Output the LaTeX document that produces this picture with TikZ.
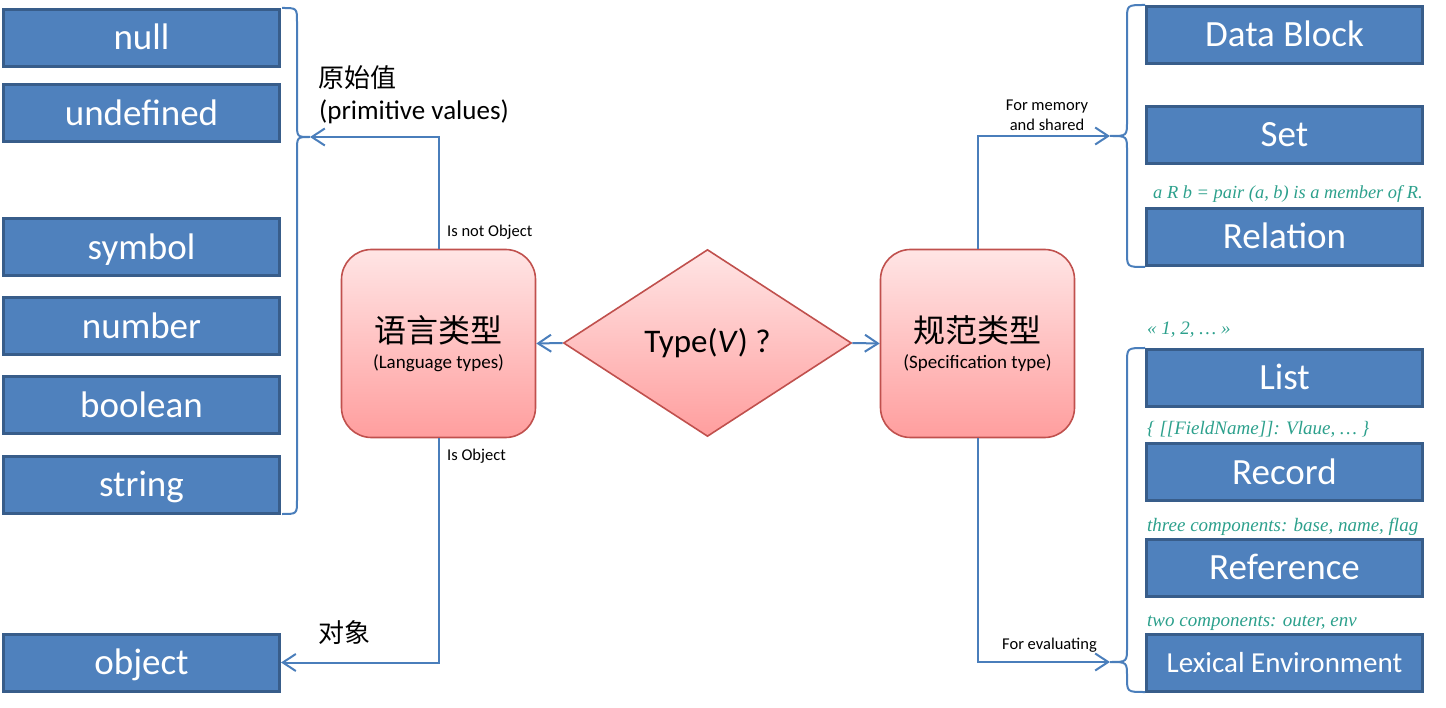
\documentclass[tikz,border=0pt]{standalone}
\usepackage{fontspec}
\setmainfont{Carlito}
\newfontfamily\cjk{Noto Sans CJK SC}
\newfontfamily\notefont{Liberation Serif}
\usetikzlibrary{shapes.geometric,arrows.meta}
\definecolor{boxblue}{RGB}{79,129,189}
\definecolor{boxedge}{RGB}{56,93,138}
\definecolor{linkblue}{RGB}{74,126,187}
\definecolor{typered}{RGB}{192,80,77}
\definecolor{pinktop}{RGB}{255,229,229}
\definecolor{pinkbot}{RGB}{255,158,158}
\definecolor{notegreen}{RGB}{44,160,140}
\tikzset{valbox/.style={rectangle,draw=boxedge,fill=boxblue,line width=3pt,minimum width=276pt,minimum height=57pt,inner sep=0pt,text=white,font=\fontsize{37}{42}\selectfont,text height=26pt,text depth=2pt}}
\tikzset{typebox/.style={rectangle,rounded corners=30pt,draw=typered,line width=1.6pt,top color=pinktop,bottom color=pinkbot,minimum width=194pt,minimum height=188pt,inner sep=0pt,align=center}}
\tikzset{decision/.style={diamond,aspect=1.54,draw=typered,line width=1.6pt,top color=pinktop,bottom color=pinkbot,minimum width=288pt,minimum height=187pt,inner sep=0pt,font=\fontsize{33}{38}\selectfont}}
\tikzset{flow/.style={draw=linkblue,line width=2pt,-{Straight Barb[length=13pt,width=17pt]}}}
\tikzset{brace/.style={draw=linkblue,line width=2pt}}
\tikzset{note/.style={text=notegreen,font=\notefont\itshape\fontsize{19}{21}\selectfont,anchor=west,inner sep=0pt}}
\tikzset{tag/.style={font=\fontsize{16.5}{20}\selectfont,anchor=west,inner sep=0pt}}
\tikzset{cnlabel/.style={font=\cjk\fontsize{26}{30}\selectfont,anchor=west,inner sep=0pt}}

\begin{document}
\begin{tikzpicture}[x=1pt,y=-1pt]
    \useasboundingbox (0,0) rectangle (1446,708);

    % language values
    \node[valbox] (null) at (141.5,38) {null};
    \node[valbox] (undef) at (141.5,113.5) {undefined};
    \node[valbox] (sym) at (141.5,247.5) {symbol};
    \node[valbox] (num) at (141.5,326.5) {number};
    \node[valbox] (bool) at (141.5,405.5) {boolean};
    \node[valbox] (str) at (141.5,484.5) {string};
    \node[valbox] (obj) at (141.5,662.5) {object};

    % specification values
    \node[valbox] (block) at (1284.5,35) {Data Block};
    \node[valbox] (set) at (1284.5,135) {Set};
    \node[valbox] (rel) at (1284.5,237) {Relation};
    \node[valbox] (list) at (1284.5,378) {List};
    \node[valbox] (rec) at (1284.5,472) {Record};
    \node[valbox] (ref) at (1284.5,567.5) {Reference};
    \node[valbox,font=\fontsize{29}{33}\selectfont,text height=21pt,text depth=2pt] (lex) at (1284.5,662.5) {Lexical Environment};

    % types
    \node[typebox] (lang) at (438.5,343.5) {{\cjk\fontsize{32}{38}\selectfont 语言类型}\\[9pt]{\fontsize{19}{22}\selectfont (Language types)}};
    \node[decision] (typev) at (707.5,343) {Type(\textit{V}) ?};
    \node[typebox] (spec) at (977.5,343.5) {{\cjk\fontsize{32}{38}\selectfont 规范类型}\\[9pt]{\fontsize{19}{22}\selectfont (Specification type)}};

    % braces
    \draw[brace] (282,8) .. controls (297,8) .. (297,22) -- (297,123) .. controls (297,137) .. (310,137) .. controls (297,137) .. (297,151) -- (297,500) .. controls (297,514) .. (282,514);
    \draw[brace] (1145,5) .. controls (1127,5) .. (1127,20) -- (1127,121) .. controls (1127,136) .. (1110,136) .. controls (1127,136) .. (1127,151) -- (1127,252) .. controls (1127,267) .. (1145,267);
    \draw[brace] (1145,348) .. controls (1127,348) .. (1127,363) -- (1127,647) .. controls (1127,662) .. (1110,662) .. controls (1127,662) .. (1127,677) .. controls (1127,692) .. (1145,692);
    \coordinate (primtip) at (310,137);
    \coordinate (memtip) at (1110,136);
    \coordinate (evaltip) at (1110,662);

    % connectors
    \draw [flow] (typev.west) to [] (lang.east);
    \draw [flow] (typev.east) to [] (spec.west);
    \draw [flow] (lang.north) |- (primtip);
    \draw [flow] (lang.south) |- (obj.east);
    \draw [flow] (spec.north) |- (memtip);
    \draw [flow] (spec.south) |- (evaltip);

    % labels
    \node[cnlabel] (primcn) at (318,78) {原始值};
    \node[anchor=west,inner sep=0pt,font=\fontsize{27}{31}\selectfont] (primen) at (319,112) {(primitive values)};
    \node[cnlabel] (objcn) at (318,633) {对象};
    \node[tag] (notobj) at (447,232) {Is not Object};
    \node[tag] (isobj) at (447,456) {Is Object};
    \node[tag,anchor=center,align=center] (memlbl) at (1047,115) {For memory\\and shared};
    \node[tag] (evallbl) at (1002,645) {For evaluating};

    % notes
    \node[note,font=\notefont\itshape\fontsize{18.4}{21}\selectfont] (relnote) at (1153,194) {a R b = pair (a, b) is a member of R.};
    \node[note] (listnote) at (1147,330) {« 1, 2, … »};
    \node[note] (recnote) at (1147,429) {\{ [[FieldName]]: Vlaue,  … \}};
    \node[note] (refnote) at (1147,527) {three components: base, name, flag};
    \node[note] (lexnote) at (1147,623) {two components: outer, env};
\end{tikzpicture}
\end{document}
